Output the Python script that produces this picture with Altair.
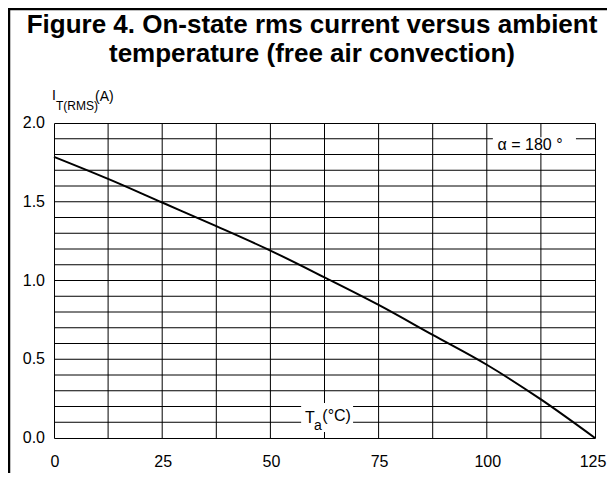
import altair as alt
import pandas as pd

# Curve data
temps = [0, 12.5, 25, 37.5, 50, 62.5, 75, 87.5, 100, 112.5, 125]
current = [1.785, 1.645, 1.495, 1.345, 1.19, 1.02, 0.845, 0.655, 0.465, 0.245, 0.0]

x_ticks = [0, 25, 50, 75, 100, 125]
x_labels = ["0", "25", "50", "75", "100", "125"]
y_ticks = [0.0, 0.5, 1.0, 1.5, 2.0]
y_labels = ["0.0", "0.5", "1.0", "1.5", "2.0"]
grid_x = [12.5, 25, 37.5, 50, 62.5, 75, 87.5, 100, 112.5]
grid_y = [0.1, 0.2, 0.3, 0.4, 0.5, 0.6, 0.7, 0.8, 0.9, 1.0,
          1.1, 1.2, 1.3, 1.4, 1.5, 1.6, 1.7, 1.8, 1.9]

title_lines = ["Figure 4. On-state rms current versus ambient",
               "temperature (free air convection)"]

FONT = "Liberation Sans"
W, H = 541, 315

xs = alt.Scale(domain=[0, 125], nice=False, zero=False)
ys = alt.Scale(domain=[0, 2], nice=False, zero=False)

curve_df = pd.DataFrame({"t": temps, "i": current})

curve = alt.Chart(curve_df).mark_line(color="black", strokeWidth=2, interpolate="monotone").encode(
    x=alt.X("t:Q", scale=xs, axis=None),
    y=alt.Y("i:Q", scale=ys, axis=None),
)

grid_v = alt.Chart(pd.DataFrame({"gx": grid_x})).mark_rule(color="black", strokeWidth=1).encode(
    x=alt.X("gx:Q", scale=xs, axis=None)
)
grid_h = alt.Chart(pd.DataFrame({"gy": grid_y})).mark_rule(color="black", strokeWidth=1).encode(
    y=alt.Y("gy:Q", scale=ys, axis=None)
)

# tick labels
xlab_df = pd.DataFrame({"v": x_ticks, "lab": x_labels})
xlab = alt.Chart(xlab_df).mark_text(
    font=FONT, fontSize=16, color="black", align="center", baseline="alphabetic", dx=1).encode(
    x=alt.X("v:Q", scale=xs, axis=None), y=alt.value(H + 29), text="lab:N"
).transform_filter("datum.v < 125")
xlab_last = alt.Chart(xlab_df).mark_text(
    font=FONT, fontSize=16, color="black", align="center", baseline="alphabetic", dx=-2).encode(
    x=alt.X("v:Q", scale=xs, axis=None), y=alt.value(H + 29), text="lab:N"
).transform_filter("datum.v >= 125")
ylab = alt.Chart(pd.DataFrame({"v": y_ticks, "lab": y_labels})).mark_text(
    font=FONT, fontSize=16, color="black", align="right", baseline="middle").encode(
    y=alt.Y("v:Q", scale=ys, axis=None), x=alt.value(-9), text="lab:N")

# white boxes behind in-plot labels
boxes_df = pd.DataFrame({"x1": [101.4, 57.1], "x2": [120.6, 69.1],
                         "y1": [1.81, 0.038], "y2": [1.91, 0.222]})
boxes = alt.Chart(boxes_df).mark_rect(color="white").encode(
    x=alt.X("x1:Q", scale=xs, axis=None), x2="x2:Q",
    y=alt.Y("y1:Q", scale=ys, axis=None), y2="y2:Q",
)

alpha_df = pd.DataFrame({"x": [110.0], "y": [1.83], "txt": ["α = 180 °"]})
alpha_txt = alt.Chart(alpha_df).mark_text(font=FONT, fontSize=16, color="black", align="center",
                                          baseline="alphabetic").encode(
    x=alt.X("x:Q", scale=xs, axis=None), y=alt.Y("y:Q", scale=ys, axis=None), text="txt:N")

ta_df = pd.DataFrame({"x": [58.0, 60.1, 62.0], "y": [0.095, 0.051, 0.108],
                      "txt": ["T", "a", "(°C)"], "fs": [16, 14, 16]})
ta_txt = alt.Chart(ta_df).mark_text(font=FONT, color="black", align="left",
                                    baseline="alphabetic").encode(
    x=alt.X("x:Q", scale=xs, axis=None), y=alt.Y("y:Q", scale=ys, axis=None), text="txt:N",
    size=alt.Size("fs:Q", scale=None, legend=None))

# y-axis title I_T(RMS)(A), in pixel coordinates relative to plot origin
yt_df = pd.DataFrame({"px": [-2, 2, 41], "py": [-23, -13, -22],
                      "txt": ["I", "T(RMS)", "(A)"], "fs": [14, 12, 14]})
yt_txt = alt.Chart(yt_df).mark_text(font=FONT, color="black", align="left",
                                    baseline="alphabetic").encode(
    x=alt.X("px:Q", scale=None), y=alt.Y("py:Q", scale=None), text="txt:N",
    size=alt.Size("fs:Q", scale=None, legend=None))

title_df = pd.DataFrame({"px": [258, 258], "py": [-90, -61], "txt": title_lines})
title_txt = alt.Chart(title_df).mark_text(font=FONT, fontSize=26, fontWeight="bold", color="black",
                                          align="center", baseline="alphabetic").encode(
    x=alt.X("px:Q", scale=None), y=alt.Y("py:Q", scale=None), text="txt:N")

frame_top = alt.Chart(pd.DataFrame({"a": [0]})).mark_rule(color="black", strokeWidth=2.5).encode(
    x=alt.value(-46), x2=alt.value(560), y=alt.value(-114))
frame_left = alt.Chart(pd.DataFrame({"a": [0]})).mark_rule(color="black", strokeWidth=2.5).encode(
    x=alt.value(-45), y=alt.value(-115), y2=alt.value(360))

chart = alt.layer(
    grid_v, grid_h, boxes, curve, xlab, xlab_last, ylab, alpha_txt, ta_txt, yt_txt, title_txt,
    frame_top, frame_left
).properties(
    width=W, height=H,
    padding={"left": 46, "top": 115, "right": 12, "bottom": 35},
    autosize=alt.AutoSizeParams(type="none"),
    background="white",
).configure_view(stroke="black", strokeWidth=1)

chart.save("out.html", embed_options={"renderer": "svg", "actions": False})
